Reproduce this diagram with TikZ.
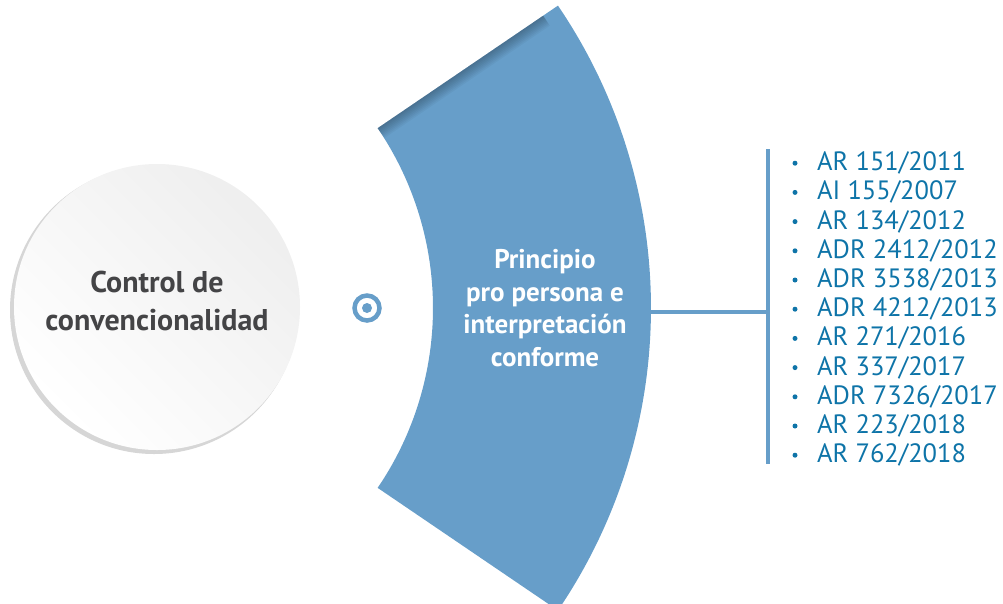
\documentclass[tikz,border=0pt]{standalone}
\usepackage{fontspec}
\setmainfont{PT Sans}
\usetikzlibrary{positioning}
\definecolor{bandblue}{RGB}{103,158,201}
\definecolor{listblue}{RGB}{14,116,168}
\definecolor{textgray}{RGB}{68,68,70}
\tikzset
{
    ctrlnode/.style = {circle, align=center, text=textgray, font=\fontsize{30}{38}\selectfont\bfseries},
    bandtext/.style = {align=center, text=white, font=\fontsize{27}{32.5}\selectfont\bfseries},
    caseitem/.style = {anchor=west, inner sep=0pt, text=listblue, font=\fontsize{26.5}{29}\selectfont},
    bulletdot/.style = {circle, fill=listblue, inner sep=0pt, minimum size=5pt},
    linkline/.style = {draw=bandblue, line width=3.5pt}
}
\begin{document}
\begin{tikzpicture}[x=1pt,y=-1pt]
\useasboundingbox (0,0) rectangle (1003,603);
% circle on the left
\fill[gray!32] (154,310) circle (144);
\shade[bottom color=white, top color=gray!13, shading angle=-45] (157,307) circle (143);
\node[ctrlnode] (ctrl) at (157,301) {Control de\\convencionalidad};
% target mark
\node[circle, draw=bandblue, line width=4.5pt, minimum size=25pt, inner sep=0pt] (target) at (367,308) {};
\fill[bandblue] (target.center) circle (5);
% band
\coordinate (bandC) at (113,308);
\fill[bandblue, shift={(bandC)}] (-34.2:538) arc[start angle=-34.2, end angle=34.2, radius=538]
  -- (34.2:320) arc[start angle=34.2, end angle=-34.2, radius=320] -- cycle;
\begin{scope}
\clip[shift={(bandC)}] (-34.2:538) arc[start angle=-34.2, end angle=34.2, radius=538]
  -- (34.2:320) arc[start angle=34.2, end angle=-34.2, radius=320] -- cycle;
\foreach \k in {1,...,8}
  \draw[black, opacity=0.035, line width=3*\k pt, shift={(bandC)}] (-34.2:300) -- (-34.2:520);
\end{scope}
\node[bandtext] (ppio) at (545,308) {Principio\\pro persona e\\interpretación\\conforme};
% list
\coordinate (bandR) at (650,312);
\coordinate (barTop) at (768,149);
\coordinate (barBot) at (768,464);
\draw[linkline] (barTop) -- (barBot);
\draw[linkline] (bandR) -- (bandR -| barTop);
\foreach \lbl [count=\i] in {AR 151/2011, AI 155/2007, AR 134/2012, ADR 2412/2012, ADR 3538/2013,
  ADR 4212/2013, AR 271/2016, AR 337/2017, ADR 7326/2017, AR 223/2018, AR 762/2018}
{
  \node[bulletdot] (dot\i) at (795,134+29.2*\i) {};
  \node[caseitem] (item\i) at (817,134+29.2*\i) {\lbl};
}
\end{tikzpicture}
\end{document}
